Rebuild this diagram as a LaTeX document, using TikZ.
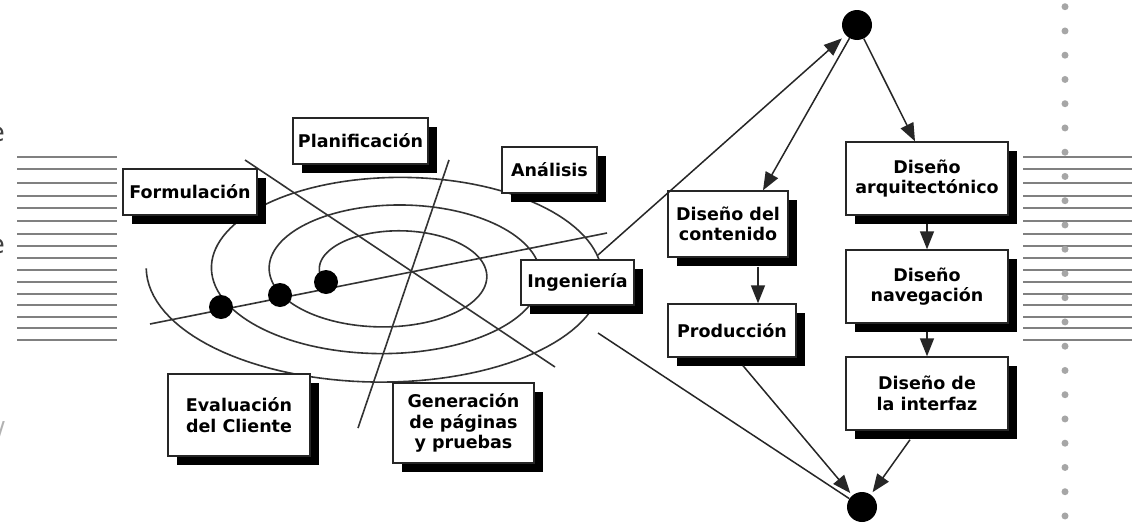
\documentclass[tikz,border=0pt]{standalone}
\usepackage{fontspec}
\setmainfont{DejaVu Sans}
\usetikzlibrary{arrows.meta,shadows,calc}
\newcommand\boxfnt{\fontsize{17.5}{20.5}\selectfont\bfseries}
\newcommand\fragfnt{\fontsize{26}{28}\selectfont}
\begin{document}
\begin{tikzpicture}[x=1pt,y=-1pt,
  box/.style={draw=black!85, line width=1.4pt, fill=white, inner sep=0pt, align=center,
    font=\boxfnt, text=black,
    general shadow={fill=black, shadow xshift=9pt, shadow yshift=-9pt}},
  bigdot/.style={circle, fill=black, draw=none, inner sep=0pt, minimum size=30pt},
  spdot/.style={circle, fill=black, draw=none, inner sep=0pt, minimum size=24pt},
  greydot/.style={circle, fill=black!35, draw=none, inner sep=0pt, minimum size=7pt},
  stripe/.style={draw=black!50, line width=2pt},
  curve/.style={draw=black!80, line width=1.6pt},
  conn/.style={draw=black!85, line width=1.5pt},
  arr/.style={conn, -{Triangle[length=18pt,width=14pt]}},
  frag/.style={inner sep=0pt, font=\fragfnt}
]
\useasboundingbox[fill=white] (0,0) rectangle (1132,522);

% stripes
\foreach \yy in {157.3,169.3,182.5,195.5,207.7,220.5,233.7,246,258.3,270,282,294.3,305.3,317,328.3,340}{
  \draw[stripe] (17,\yy) -- (117,\yy);
  \draw[stripe] (1023,\yy) -- (1132,\yy);
}
\foreach \i in {0,...,21}{
  \node[greydot] (g\i) at (1065,{6.7+24.25*\i}) {};
}
% left fragments (cut off by the edge, as in the original)
\node[frag, anchor=east, text=black!75] (e1) at (5,134) {e};
\node[frag, anchor=east, text=black!75] (e2) at (5,246) {e};
\node[frag, anchor=east, text=black!30] (sl) at (5,432) {/};

% spiral
\draw[curve] plot[domain=-15:1082, samples=400, variable=\s]
  ({391+(95.5+50.25*((\s-180)/360)+3.75*((\s-180)/360)^2)*cos(180+\s)},
   {272.5+(54.25+25.875*((\s-270)/360)+0.875*((\s-270)/360)^2)*sin(180+\s)});
% straight lines
\coordinate (la1) at (245,160); \coordinate (la2) at (555,367);
\coordinate (lb1) at (449,160); \coordinate (lb2) at (358,428);
\coordinate (lc1) at (150,324); \coordinate (lc2) at (607,233);
\draw[curve] (la1) -- (la2);
\draw[curve] (lb1) -- (lb2);
\draw[curve] (lc1) -- (lc2);
\node[spdot] (d1) at (221,307) {};
\node[spdot] (d2) at (280,295) {};
\node[spdot] (d3) at (326,282) {};

% boxes
\node[box, minimum width=134pt, minimum height=46pt] (form) at (190,192) {Formulación};
\node[box, minimum width=135pt, minimum height=46pt] (plan) at (360.5,141) {Planificación};
\node[box, minimum width=95pt, minimum height=46pt] (anal) at (549.5,170) {Análisis};
\node[box, minimum width=113pt, minimum height=45pt] (inge) at (577.5,282.5) {Ingeniería};
\node[box, minimum width=142pt, minimum height=82pt] (eval) at (239,415) {Evaluación\\del Cliente};
\node[box, minimum width=141pt, minimum height=80pt] (gene) at (463.5,423) {Generación\\de páginas\\y pruebas};
\node[box, minimum width=120pt, minimum height=66pt] (dc) at (728,224) {Diseño del\\contenido};
\node[box, minimum width=128pt, minimum height=53pt] (pr) at (732,330.5) {Producción};
\node[box, minimum width=162pt, minimum height=73pt] (da) at (927,178.5) {Diseño\\arquitectónico};
\node[box, minimum width=162pt, minimum height=73pt] (dn) at (927,286.5) {Diseño\\navegación};
\node[box, minimum width=162pt, minimum height=73pt] (di) at (927,393.5) {Diseño de\\la interfaz};

% flow dots
\node[bigdot] (top) at (857,25) {};
\node[bigdot] (bot) at (862,507) {};

% connectors
\coordinate (ingA) at (598,255);
\coordinate (ingB) at (598,333);
\draw[arr, shorten >=5pt] (ingA) -- (top);
\draw[conn] (ingB) -- (bot);
\draw[arr] (top) -- ([xshift=35pt]dc.north);
\draw[arr] (top) -- ([xshift=-12pt]da.north);
\draw[arr] ([xshift=30pt,yshift=-9pt]dc.south) -- ([xshift=26pt]pr.north);
\draw[arr] ([yshift=-8pt]da.south) -- (dn.north);
\draw[arr] ([yshift=-8pt]dn.south) -- (di.north);
\draw[arr, shorten >=3pt] ([xshift=11pt,yshift=-8pt]pr.south) -- (bot);
\draw[arr, shorten >=3pt] ([xshift=-17pt,yshift=-9pt]di.south) -- (bot);
\end{tikzpicture}
\end{document}
